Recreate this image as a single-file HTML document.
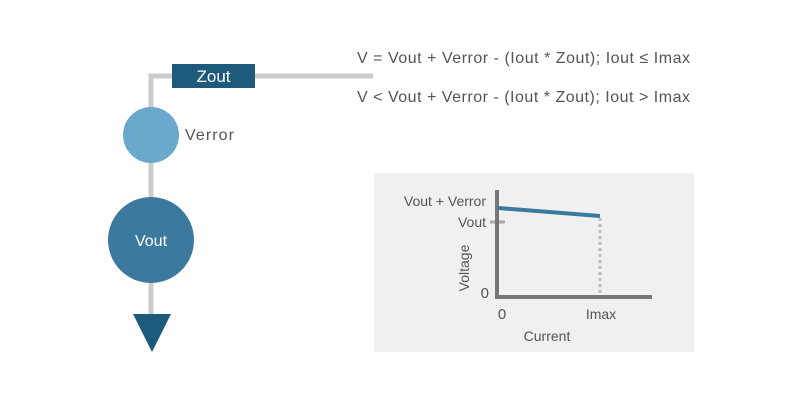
<!DOCTYPE html>
<html><head><style>body{margin:0;background:#fff}</style></head><body>
<svg width="800" height="400" xmlns="http://www.w3.org/2000/svg" font-family="Liberation Sans, sans-serif">
<rect width="800" height="400" fill="#fff"/>
<path d="M151 320 V76 H373" stroke="#cccccc" stroke-width="5" fill="none"/>
<rect x="172" y="64" width="83" height="24" fill="#1e5a7c"/>
<text x="213.5" y="82" font-size="17" fill="#fff" text-anchor="middle">Zout</text>
<circle cx="151" cy="135" r="28" fill="#6aa8cc"/>
<text x="185" y="140" font-size="16" fill="#555" textLength="49">Verror</text>
<circle cx="151" cy="240" r="43" fill="#3b7a9e"/>
<text x="151" y="246" font-size="16" fill="#fff" text-anchor="middle">Vout</text>
<polygon points="133,314 171,314 152,352" fill="#1e5a7c"/>
<text x="357" y="63" font-size="16" fill="#555" textLength="333">V = Vout + Verror - (Iout * Zout); Iout ≤ Imax</text>
<text x="357" y="102" font-size="16" fill="#555" textLength="333">V &lt; Vout + Verror - (Iout * Zout); Iout &gt; Imax</text>
<rect x="374" y="173" width="320" height="179" fill="#f0f0f0"/>
<line x1="600" y1="218" x2="600" y2="295" stroke="#bbb" stroke-width="3" stroke-dasharray="3,3"/>
<line x1="490" y1="222" x2="505" y2="222" stroke="#aaa" stroke-width="3"/>
<path d="M497 190 V297 H652" stroke="#777" stroke-width="4" fill="none"/>
<line x1="498" y1="208" x2="600" y2="216" stroke="#3b7a9e" stroke-width="4"/>
<text x="486" y="206" font-size="14" fill="#555" text-anchor="end">Vout + Verror</text>
<text x="486" y="227" font-size="14" fill="#555" text-anchor="end">Vout</text>
<text x="489" y="298" font-size="15" fill="#555" text-anchor="end">0</text>
<text x="502" y="319" font-size="15" fill="#555" text-anchor="middle">0</text>
<text x="601" y="319" font-size="14" fill="#555" text-anchor="middle">Imax</text>
<text x="547" y="341" font-size="14" fill="#555" text-anchor="middle">Current</text>
<text transform="translate(469,268) rotate(-90)" font-size="14" fill="#555" text-anchor="middle">Voltage</text>
</svg>
</body></html>
